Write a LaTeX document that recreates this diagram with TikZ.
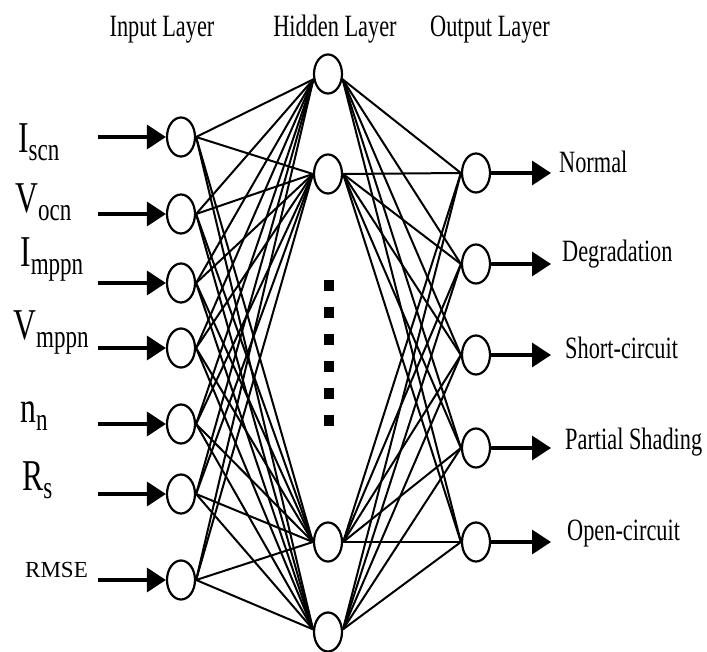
\documentclass[tikz,border=0pt]{standalone}
\usepackage{fontspec}
\setmainfont{Liberation Serif}
\newfontfamily\narrowserif{Liberation Serif}[FakeStretch=0.72]
\usepackage{tikz}
\usetikzlibrary{shapes.geometric, arrows.meta}

% input symbol with its lowered index
\newcommand{\inlabel}[2]{{\narrowserif\fontsize{44}{44}\selectfont #1}\raisebox{-8pt}{\narrowserif\fontsize{32}{32}\selectfont #2}}

\begin{document}
\begin{tikzpicture}[x=1pt, y=-1pt,
    neuron/.style={ellipse, draw, line width=2.2pt, fill=white,
                   minimum width=28pt, minimum height=39pt, inner sep=0pt},
    link/.style={line width=2pt},
    arr/.style={-{Triangle[length=19pt, width=24pt]}, line width=3.5pt},
    title/.style={font=\narrowserif\fontsize{31}{31}\selectfont, anchor=base, inner sep=0pt},
    outlbl/.style={font=\narrowserif\fontsize{31}{31}\selectfont, anchor=base west, inner sep=0pt},
    inlbl/.style={anchor=base west, inner sep=0pt}
]
\useasboundingbox (0,0) rectangle (707,652);

% layer titles
\node[title] (tin) at (162,37) {Input Layer};
\node[title] (thid) at (335,37) {Hidden Layer};
\node[title] (tout) at (490,37) {Output Layer};

% input layer
\node[neuron] (i1) at (181,137) {};
\node[neuron] (i2) at (181,214) {};
\node[neuron] (i3) at (181,283) {};
\node[neuron] (i4) at (181,348) {};
\node[neuron] (i5) at (181,424) {};
\node[neuron] (i6) at (181,494) {};
\node[neuron] (i7) at (181,580) {};

% hidden layer
\node[neuron] (h1) at (328,74) {};
\node[neuron] (h2) at (328,174) {};
\node[neuron] (h3) at (328,542) {};
\node[neuron] (h4) at (328,632) {};

% output layer
\node[neuron] (o1) at (476,173) {};
\node[neuron] (o2) at (476,264) {};
\node[neuron] (o3) at (476,355) {};
\node[neuron] (o4) at (476,448) {};
\node[neuron] (o5) at (476,542) {};

% weights
\foreach \i in {1,...,7}
  \foreach \h/\a in {1/200, 2/180, 3/180, 4/170}
    \draw[link] (i\i.east) -- (h\h.\a);
\foreach \h/\a in {1/340, 2/0, 3/0, 4/10}
  \foreach \o in {1,...,5}
    \draw[link] (h\h.\a) -- (o\o.west);

% more hidden units
\draw[line width=10.5pt, dash pattern=on 11pt off 16pt] (329,280) -- (329,426);

% inputs
\node[inlbl] (xIscn) at (18,153) {\inlabel{I}{scn}};
\node[inlbl] (xVocn) at (15,213) {\inlabel{V}{ocn}};
\node[inlbl] (xImppn) at (20,267) {\inlabel{I}{mppn}};
\node[inlbl] (xVmppn) at (13,340) {\inlabel{V}{mppn}};
\node[inlbl] (xnn) at (20,422) {\inlabel{n}{n}};
\node[inlbl] (xRs) at (22,490) {\inlabel{R}{s}};
\node[inlbl, font=\fontsize{23}{23}\selectfont] (xRMSE) at (25,577) {RMSE};
\foreach \i/\y in {1/137, 2/214, 3/283, 4/348, 5/424, 6/494, 7/580} {
  \coordinate (a\i) at (98,\y);
  \draw[arr] (a\i) -- (i\i.west);
}

% outputs
\foreach \o/\y in {1/173, 2/264, 3/355, 4/448, 5/542} {
  \coordinate (b\o) at (551,\y);
  \draw[arr] (o\o.east) -- (b\o);
}
\node[outlbl] (yNormal) at (559,173) {Normal};
\node[outlbl] (yDegr) at (562,262) {Degradation};
\node[outlbl] (yShort) at (565,359) {Short-circuit};
\node[outlbl] (yShade) at (565,449) {Partial Shading};
\node[outlbl] (yOpen) at (567,540) {Open-circuit};
\end{tikzpicture}
\end{document}
